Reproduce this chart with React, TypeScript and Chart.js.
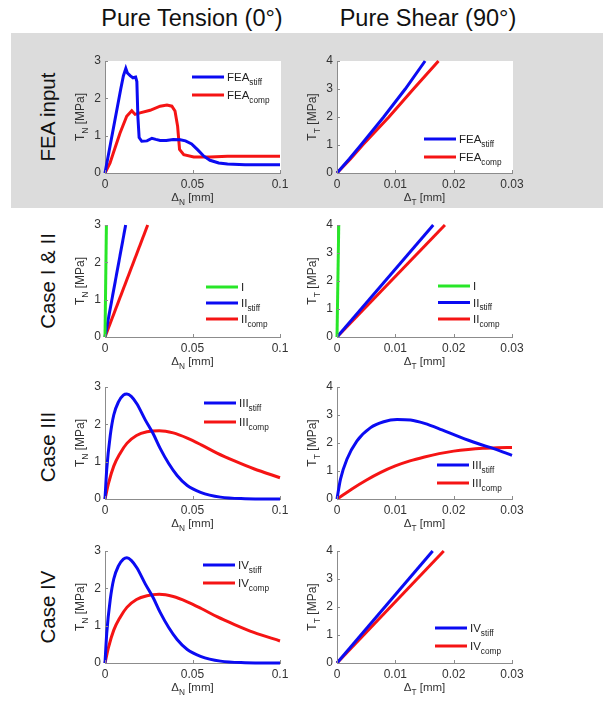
import React, { useEffect, useRef } from "react";
import { Chart, registerables } from "chart.js";

Chart.register(...registerables);

const FONT = '"Liberation Sans", Arial, Helvetica, sans-serif';
const BLUE = "#0b0bf2";
const RED = "#f51414";
const GREEN = "#28e628";
const AXIS = "#8c8c8c";

const columnTitles = ["Pure Tension (0°)", "Pure Shear (90°)"];
const rowLabels = ["FEA input", "Case I & II", "Case III", "Case IV"];

// tick values
const tensionXTicks = [0, 0.05, 0.1];
const tensionYTicks = [0, 1, 2, 3];
const shearXTicks = [0, 0.01, 0.02, 0.03];
const shearYTicks = [0, 1, 2, 3, 4];

// FEA input – pure tension
const feaTenStiffX = [0, 0.003, 0.006, 0.009, 0.0105, 0.0119, 0.0128, 0.0145, 0.016, 0.0175, 0.0182, 0.0188, 0.0195, 0.021, 0.024, 0.0268, 0.029, 0.0315, 0.035, 0.039, 0.043, 0.046, 0.0495, 0.053, 0.0565, 0.06, 0.065, 0.07, 0.08, 0.09, 0.1];
const feaTenStiffY = [0, 0.75, 1.5, 2.25, 2.6, 2.8, 2.68, 2.6, 2.55, 2.57, 2.45, 1.5, 0.95, 0.85, 0.86, 0.93, 0.9, 0.87, 0.87, 0.9, 0.89, 0.86, 0.78, 0.62, 0.45, 0.34, 0.27, 0.24, 0.22, 0.22, 0.22];
const feaTenCompX = [0, 0.0029, 0.0048, 0.0086, 0.0124, 0.0153, 0.0172, 0.02, 0.0258, 0.0315, 0.0354, 0.0382, 0.04, 0.0415, 0.0426, 0.045, 0.0507, 0.06, 0.07, 0.08, 0.09, 0.1];
const feaTenCompY = [0, 0.27, 0.54, 1.07, 1.52, 1.67, 1.57, 1.61, 1.68, 1.79, 1.82, 1.79, 1.66, 1.25, 0.63, 0.49, 0.43, 0.43, 0.45, 0.45, 0.45, 0.45];

// FEA input – pure shear
const feaShrStiffX = [0, 0.0021, 0.0041, 0.008, 0.0117, 0.0151];
const feaShrStiffY = [0, 0.5, 1, 2, 3, 4];
const feaShrCompX = [0, 0.0023, 0.0044, 0.0089, 0.0131, 0.0174];
const feaShrCompY = [0, 0.5, 1, 2, 3, 4];

// Case I & II – tension
const c12TenIX = [0, 0.0008];
const c12TenIY = [0, 3];
const c12TenStiffX = [0, 0.0118];
const c12TenStiffY = [0, 3];
const c12TenCompX = [0, 0.0244];
const c12TenCompY = [0, 3];

// Case I & II – shear
const c12ShrIX = [0, 0.0003];
const c12ShrIY = [0, 4];
const c12ShrStiffX = [0, 0.0165];
const c12ShrStiffY = [0, 4];
const c12ShrCompX = [0, 0.0185];
const c12ShrCompY = [0, 4];

// Case III – tension
const c3TenStiffX = [0, 0.001, 0.003, 0.005, 0.0077, 0.0105, 0.0125, 0.015, 0.0182, 0.023, 0.0274, 0.0316, 0.0364, 0.0412, 0.047, 0.0546, 0.066, 0.08, 0.1];
const c3TenStiffY = [0, 0.8, 1.7, 2.25, 2.6, 2.78, 2.81, 2.75, 2.55, 2.12, 1.76, 1.35, 0.95, 0.63, 0.36, 0.18, 0.05, 0.01, 0];
const c3TenCompX = [0, 0.002, 0.005, 0.0086, 0.0125, 0.018, 0.024, 0.031, 0.039, 0.047, 0.055, 0.064, 0.074, 0.085, 0.1];
const c3TenCompY = [0, 0.42, 0.88, 1.22, 1.49, 1.7, 1.8, 1.83, 1.77, 1.63, 1.45, 1.23, 1.02, 0.81, 0.57];

// Case III – shear
const c3ShrStiffX = [0, 0.0006, 0.0017, 0.0034, 0.0057, 0.008, 0.0103, 0.0126, 0.015, 0.018, 0.021, 0.024, 0.027, 0.03];
const c3ShrStiffY = [0, 0.71, 1.42, 2.07, 2.54, 2.76, 2.84, 2.82, 2.7, 2.47, 2.22, 1.99, 1.79, 1.56];
const c3ShrCompX = [0, 0.0025, 0.005, 0.0075, 0.01, 0.0125, 0.015, 0.0175, 0.02, 0.0225, 0.025, 0.0275, 0.03];
const c3ShrCompY = [0, 0.35, 0.67, 0.95, 1.18, 1.36, 1.5, 1.62, 1.71, 1.77, 1.81, 1.83, 1.84];

// Case IV – tension
const c4TenStiffX = [0, 0.001, 0.003, 0.005, 0.0077, 0.0105, 0.0125, 0.015, 0.0182, 0.023, 0.0274, 0.0316, 0.0364, 0.0412, 0.047, 0.0546, 0.066, 0.08, 0.1];
const c4TenStiffY = [0, 0.8, 1.7, 2.25, 2.6, 2.78, 2.82, 2.75, 2.55, 2.12, 1.76, 1.35, 0.95, 0.63, 0.36, 0.18, 0.05, 0.01, 0];
const c4TenCompX = [0, 0.002, 0.005, 0.0086, 0.0125, 0.018, 0.024, 0.031, 0.039, 0.047, 0.055, 0.064, 0.074, 0.085, 0.1];
const c4TenCompY = [0, 0.42, 0.88, 1.22, 1.49, 1.7, 1.8, 1.84, 1.78, 1.64, 1.46, 1.24, 1.03, 0.82, 0.59];

// Case IV – shear
const c4ShrStiffX = [0, 0.0164];
const c4ShrStiffY = [0, 4];
const c4ShrCompX = [0, 0.0183];
const c4ShrCompY = [0, 4];

type Series = { xs: number[]; ys: number[]; color: string; main: string; sub: string; smooth?: boolean };
type PanelSpec = {
  x: number; y: number; w: number; h: number;
  areaLeft: number; padRight: number;
  xMax: number; yMax: number; xTicks: number[]; yTicks: number[];
  sym: string; white: boolean;
  legend: { dx: number; dy: number; gap: number };
  series: Series[];
};

const S = (xs: number[], ys: number[], color: string, main: string, sub: string, smooth = false): Series => ({ xs, ys, color, main, sub, smooth });

const rowTops = [46, 210, 372, 536];
const CAN_H = 162;

function tensionPanel(row: number, white: boolean, legend: PanelSpec["legend"], series: Series[]): PanelSpec {
  return { x: 60, y: rowTops[row], w: 235, h: CAN_H, areaLeft: 45, padRight: 15, xMax: 0.1, yMax: 3, xTicks: tensionXTicks, yTicks: tensionYTicks, sym: "N", white, legend, series };
}
function shearPanel(row: number, white: boolean, legend: PanelSpec["legend"], series: Series[]): PanelSpec {
  return { x: 300, y: rowTops[row], w: 230, h: CAN_H, areaLeft: 37, padRight: 18, xMax: 0.03, yMax: 4, xTicks: shearXTicks, yTicks: shearYTicks, sym: "T", white, legend, series };
}

const panels: PanelSpec[] = [
  tensionPanel(0, true, { dx: 87, dy: 16, gap: 18 }, [
    S(feaTenStiffX, feaTenStiffY, BLUE, "FEA", "stiff"),
    S(feaTenCompX, feaTenCompY, RED, "FEA", "comp"),
  ]),
  shearPanel(0, true, { dx: 87, dy: 78, gap: 18 }, [
    S(feaShrStiffX, feaShrStiffY, BLUE, "FEA", "stiff"),
    S(feaShrCompX, feaShrCompY, RED, "FEA", "comp"),
  ]),
  tensionPanel(1, false, { dx: 101, dy: 62, gap: 16 }, [
    S(c12TenIX, c12TenIY, GREEN, "I", ""),
    S(c12TenStiffX, c12TenStiffY, BLUE, "II", "stiff"),
    S(c12TenCompX, c12TenCompY, RED, "II", "comp"),
  ]),
  shearPanel(1, false, { dx: 101, dy: 61, gap: 16.5 }, [
    S(c12ShrIX, c12ShrIY, GREEN, "I", ""),
    S(c12ShrStiffX, c12ShrStiffY, BLUE, "II", "stiff"),
    S(c12ShrCompX, c12ShrCompY, RED, "II", "comp"),
  ]),
  tensionPanel(2, false, { dx: 99, dy: 16, gap: 19 }, [
    S(c3TenStiffX, c3TenStiffY, BLUE, "III", "stiff", true),
    S(c3TenCompX, c3TenCompY, RED, "III", "comp", true),
  ]),
  shearPanel(2, false, { dx: 100, dy: 78, gap: 18 }, [
    S(c3ShrStiffX, c3ShrStiffY, BLUE, "III", "stiff", true),
    S(c3ShrCompX, c3ShrCompY, RED, "III", "comp", true),
  ]),
  tensionPanel(3, false, { dx: 98, dy: 14, gap: 18 }, [
    S(c4TenStiffX, c4TenStiffY, BLUE, "IV", "stiff", true),
    S(c4TenCompX, c4TenCompY, RED, "IV", "comp", true),
  ]),
  shearPanel(3, false, { dx: 98, dy: 77, gap: 18 }, [
    S(c4ShrStiffX, c4ShrStiffY, BLUE, "IV", "stiff"),
    S(c4ShrCompX, c4ShrCompY, RED, "IV", "comp"),
  ]),
];

function drawSub(ctx: CanvasRenderingContext2D, x: number, y: number, main: string, sub: string, rest: string, size: number, align: "center" | "left", color: string) {
  const subSize = size * 0.72;
  const mf = `${size}px ${FONT}`;
  const sf = `${subSize}px ${FONT}`;
  ctx.font = mf;
  const w1 = ctx.measureText(main).width;
  const w3 = rest ? ctx.measureText(rest).width : 0;
  ctx.font = sf;
  const w2 = sub ? ctx.measureText(sub).width : 0;
  const total = w1 + w2 + w3;
  let sx = align === "center" ? x - total / 2 : x;
  ctx.fillStyle = color;
  ctx.textAlign = "left";
  ctx.textBaseline = "alphabetic";
  ctx.font = mf;
  ctx.fillText(main, sx, y);
  sx += w1;
  if (sub) {
    ctx.font = sf;
    ctx.fillText(sub, sx, y + size * 0.32);
    sx += w2;
  }
  if (rest) {
    ctx.font = mf;
    ctx.fillText(rest, sx, y);
  }
}

function makePlugin(spec: PanelSpec) {
  return {
    id: "panelDecor",
    beforeDraw(chart: any) {
      if (!spec.white) return;
      const a = chart.chartArea;
      const ctx = chart.ctx;
      ctx.save();
      ctx.fillStyle = "#ffffff";
      ctx.fillRect(a.left, a.top, a.right - a.left + 1, a.bottom - a.top);
      ctx.restore();
    },
    afterDraw(chart: any) {
      const a = chart.chartArea;
      const ctx: CanvasRenderingContext2D = chart.ctx;
      const xs = chart.scales.x;
      const ys = chart.scales.y;
      ctx.save();
      // inward tick marks
      ctx.strokeStyle = AXIS;
      ctx.lineWidth = 1;
      ctx.beginPath();
      spec.xTicks.forEach((v) => {
        const px = Math.round(xs.getPixelForValue(v)) + 0.5;
        ctx.moveTo(px, a.bottom);
        ctx.lineTo(px, a.bottom - 3);
      });
      spec.yTicks.forEach((v) => {
        const py = Math.round(ys.getPixelForValue(v)) + 0.5;
        ctx.moveTo(a.left, py);
        ctx.lineTo(a.left + 3, py);
      });
      ctx.stroke();
      // axis titles
      const cx = (a.left + a.right) / 2;
      drawSub(ctx, cx, a.bottom + 28, "Δ", spec.sym, " [mm]", 11.5, "center", "#333");
      ctx.save();
      ctx.translate(a.left - 25, (a.top + a.bottom) / 2);
      ctx.rotate(-Math.PI / 2);
      drawSub(ctx, 0, 4, "T", spec.sym, " [MPa]", 12, "center", "#333");
      ctx.restore();
      // legend
      const lx = a.left + spec.legend.dx;
      spec.series.forEach((s, i) => {
        const ly = a.top + spec.legend.dy + i * spec.legend.gap;
        ctx.strokeStyle = s.color;
        ctx.lineWidth = 3;
        ctx.beginPath();
        ctx.moveTo(lx, ly);
        ctx.lineTo(lx + 32, ly);
        ctx.stroke();
        drawSub(ctx, lx + 35, ly + 4, s.main, s.sub, "", 11.5, "left", "#222");
      });
      ctx.restore();
    },
  };
}

const fmt = (v: number) => String(parseFloat(Number(v).toFixed(4)));

function Panel({ spec }: { spec: PanelSpec }) {
  const ref = useRef<HTMLCanvasElement>(null);
  useEffect(() => {
    const canvas = ref.current;
    if (!canvas) return;
    const tickFont = { family: FONT, size: 12 };
    const chart = new Chart(canvas, {
      type: "line",
      data: {
        datasets: spec.series.map((s) => ({
          label: s.main + s.sub,
          data: s.xs.map((x, i) => ({ x, y: s.ys[i] })),
          borderColor: s.color,
          backgroundColor: s.color,
          borderWidth: 3,
          pointRadius: 0,
          fill: false,
          tension: s.smooth ? 0.4 : 0,
          cubicInterpolationMode: s.smooth ? "monotone" : "default",
          clip: 4,
        })),
      },
      options: {
        responsive: false,
        animation: false,
        events: [],
        layout: { padding: { left: 0, right: spec.padRight, top: 15, bottom: 0 } },
        plugins: { legend: { display: false }, tooltip: { enabled: false } },
        scales: {
          x: {
            type: "linear",
            min: 0,
            max: spec.xMax,
            grid: { display: false, drawTicks: false, tickLength: 0 },
            border: { display: true, color: AXIS, width: 1 },
            ticks: { font: tickFont, color: "#333", padding: 4, maxRotation: 0, autoSkip: false, callback: (v: any) => fmt(v) },
            afterBuildTicks: (scale: any) => { scale.ticks = spec.xTicks.map((v) => ({ value: v })); },
            afterFit: (scale: any) => { scale.height = 35; },
          },
          y: {
            type: "linear",
            min: 0,
            max: spec.yMax,
            grid: { display: false, drawTicks: false, tickLength: 0 },
            border: { display: true, color: AXIS, width: 1 },
            ticks: { font: tickFont, color: "#333", padding: 4, autoSkip: false, callback: (v: any) => fmt(v) },
            afterBuildTicks: (scale: any) => { scale.ticks = spec.yTicks.map((v) => ({ value: v })); },
            afterFit: (scale: any) => { scale.width = spec.areaLeft; },
          },
        },
      } as any,
      plugins: [makePlugin(spec)],
    } as any);
    return () => chart.destroy();
  }, [spec]);
  return (
    <canvas
      ref={ref}
      width={spec.w}
      height={spec.h}
      style={{ position: "absolute", left: spec.x, top: spec.y, width: spec.w, height: spec.h }}
    />
  );
}

const rowCenters = [117, 281, 447, 607];
const titleCenters = [192, 428];

export default function App() {
  return (
    <div
      style={{
        position: "absolute",
        left: 0,
        top: 0,
        width: 612,
        height: 704,
        background: "#ffffff",
        overflow: "hidden",
        fontFamily: FONT,
      }}
    >
      <div style={{ position: "absolute", left: 11, top: 33, width: 592, height: 175, background: "#dcdcdc" }} />
      {columnTitles.map((t, i) => (
        <div
          key={t}
          style={{
            position: "absolute",
            left: titleCenters[i] - 150,
            top: 5,
            width: 300,
            height: 26,
            lineHeight: "26px",
            textAlign: "center",
            fontSize: 23.5,
            color: "#111",
            whiteSpace: "nowrap",
          }}
        >
          {t}
        </div>
      ))}
      {rowLabels.map((t, i) => (
        <div
          key={t}
          style={{
            position: "absolute",
            left: 48 - 80,
            top: rowCenters[i] - 14,
            width: 160,
            height: 28,
            lineHeight: "28px",
            textAlign: "center",
            fontSize: 20.5,
            color: "#111",
            whiteSpace: "nowrap",
            transform: "rotate(-90deg)",
          }}
        >
          {t}
        </div>
      ))}
      {panels.map((p, i) => (
        <Panel key={i} spec={p} />
      ))}
    </div>
  );
}
